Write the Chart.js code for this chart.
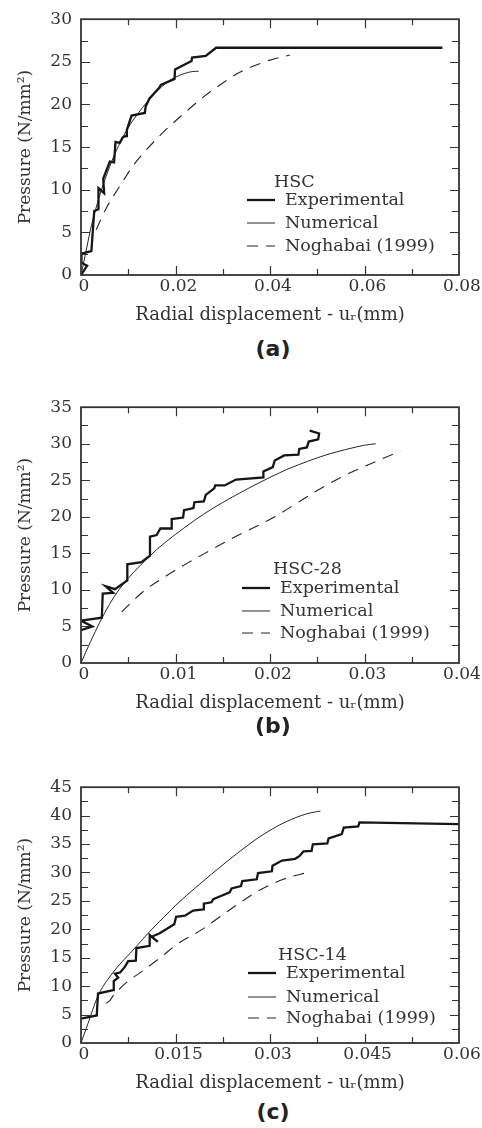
<!DOCTYPE html>
<html>
<head>
<meta charset="utf-8">
<script src="https://cdn.jsdelivr.net/npm/chart.js@4.4.1/dist/chart.umd.min.js"></script>
<style>
  body { margin: 0; background: #fff; width: 482px; height: 1128px; position: relative; overflow: hidden; }
  canvas { position: absolute; left: 0; }
  .cap { position: absolute; left: 223px; width: 100px; text-align: center;
         font: bold 22px "DejaVu Sans", sans-serif; line-height: 26px; color: #222; }
</style>
</head>
<body>
<canvas id="chart-a" width="482" height="330" style="top:0px"></canvas>
<div class="cap" style="top:336px">(a)</div>
<canvas id="chart-b" width="482" height="330" style="top:388px"></canvas>
<div class="cap" style="top:713px">(b)</div>
<canvas id="chart-c" width="482" height="330" style="top:768px"></canvas>
<div class="cap" style="top:1099px">(c)</div>

<script>
// ---- data: [radial displacement (mm), pressure (N/mm2)] ----

// (a) HSC
const hscExp = [[0,0],[0.0013,1.1],[0.0002,1.4],[0.0001,2.5],[0.0022,2.8],[0.0028,7.5],[0.0037,7.7],
  [0.0037,10.2],[0.0049,9.6],[0.0047,11.3],[0.0061,13.3],[0.007,13.2],[0.0073,15.6],[0.0082,15.5],
  [0.0089,16.2],[0.0096,16.3],[0.0097,17.0],[0.0107,18.7],[0.0135,19.0],[0.0137,19.8],[0.0145,20.7],
  [0.0166,22.0],[0.0169,22.3],[0.0198,23.0],[0.0199,24.1],[0.0234,25.1],[0.0235,25.5],[0.0264,25.7],
  [0.0286,26.65],[0.0765,26.65]];
const hscNum = [[0,0],[0.001,2.6],[0.002,5.3],[0.003,7.5],[0.004,9.4],[0.005,11.1],[0.006,12.6],
  [0.007,14.0],[0.008,15.2],[0.009,16.3],[0.010,17.3],[0.012,18.9],[0.014,20.3],[0.016,21.5],
  [0.018,22.5],[0.020,23.2],[0.022,23.65],[0.0235,23.85],[0.0249,23.9]];
const hscNog = [[0.0032,5.3],[0.0054,7.9],[0.0082,10.4],[0.011,12.8],[0.0142,14.9],[0.0177,16.9],
  [0.0219,19.0],[0.0262,21.0],[0.0297,22.4],[0.033,23.6],[0.0365,24.5],[0.04,25.2],[0.0442,25.8]];
const hscXTicks = [0, 0.02, 0.04, 0.06, 0.08];
const hscYTicks = [0, 5, 10, 15, 20, 25, 30];

// (b) HSC-28
const hsc28Exp = [[0,4.5],[0.0012,5.0],[0,5.8],[0.0022,6.2],[0.0023,9.5],[0.0034,9.6],[0.0026,10.5],
  [0.0036,10.1],[0.0049,11.3],[0.0049,13.5],[0.0064,13.8],[0.0073,14.7],[0.0073,17.3],[0.008,17.5],
  [0.0084,18.4],[0.0096,18.4],[0.0096,19.7],[0.0108,19.9],[0.0109,20.9],[0.0119,21.2],[0.012,22.0],
  [0.013,22.1],[0.0132,23.0],[0.0141,23.9],[0.0142,24.3],[0.0152,24.3],[0.0164,25.1],[0.0193,25.4],
  [0.0193,26.2],[0.0203,26.8],[0.0205,27.7],[0.0215,28.4],[0.023,28.5],[0.0231,29.3],[0.0239,29.5],
  [0.0241,30.3],[0.0251,30.6],[0.0252,31.4],[0.0242,31.8]];
const hsc28Num = [[0,0],[0.001,2.9],[0.002,5.6],[0.003,8.0],[0.004,10.0],[0.005,11.6],[0.006,13.0],
  [0.007,14.3],[0.008,15.5],[0.009,16.6],[0.010,17.6],[0.012,19.5],[0.014,21.2],[0.016,22.7],
  [0.018,24.1],[0.020,25.4],[0.022,26.6],[0.024,27.6],[0.026,28.5],[0.028,29.2],[0.030,29.8],[0.0312,30.0]];
const hsc28Nog = [[0.0043,7.0],[0.0067,9.9],[0.009,11.9],[0.0113,13.7],[0.0138,15.5],[0.0159,17.0],
  [0.0184,18.6],[0.0205,20.0],[0.0225,21.6],[0.025,23.6],[0.0275,25.4],[0.03,26.9],[0.0318,27.9],[0.0338,29.0]];
const hsc28XTicks = [0, 0.01, 0.02, 0.03, 0.04];
const hsc28YTicks = [0, 5, 10, 15, 20, 25, 30, 35];

// (c) HSC-14
const hsc14Exp = [[0,4.3],[0.0025,4.85],[0.0027,8.7],[0.0051,9.3],[0.0052,10.9],[0.0059,11.5],[0.0054,12.2],
  [0.0062,12.4],[0.0069,13.3],[0.0075,14.4],[0.0087,14.5],[0.0088,16.7],[0.0109,17.1],[0.0109,19.0],
  [0.0122,17.8],[0.0112,18.7],[0.0125,19.3],[0.0148,20.9],[0.0151,22.2],[0.0165,22.4],[0.0178,23.3],
  [0.0194,23.5],[0.0195,24.5],[0.0207,24.75],[0.021,25.3],[0.0223,25.9],[0.0236,26.5],[0.0239,27.2],
  [0.0254,27.6],[0.0256,28.5],[0.0279,28.8],[0.0281,29.9],[0.0303,30.2],[0.0304,31.2],[0.0319,32.1],
  [0.034,32.4],[0.0347,32.9],[0.0353,33.7],[0.0366,33.8],[0.0368,34.95],[0.0391,35.1],[0.0393,36.0],
  [0.0414,36.75],[0.0417,37.9],[0.044,38.1],[0.0442,38.8],[0.06,38.5]];
const hsc14Num = [[0,0],[0.0011,3.4],[0.0027,8.3],[0.0048,12.0],[0.0088,17.0],[0.0109,19.6],[0.0133,22.3],
  [0.0154,24.6],[0.018,27.15],[0.0207,29.7],[0.0233,32.05],[0.0265,34.8],[0.0284,36.3],[0.0316,38.4],
  [0.0348,39.95],[0.0365,40.5],[0.038,40.8]];
const hsc14Nog = [[0.004,7.0],[0.0046,7.5],[0.0051,8.3],[0.0061,9.5],[0.0075,10.9],[0.0093,12.3],
  [0.0128,15.2],[0.0154,17.5],[0.0191,19.9],[0.0223,22.4],[0.0254,24.8],[0.0284,26.9],[0.0321,28.8],[0.0363,30.1]];
const hsc14XTicks = [0, 0.015, 0.03, 0.045, 0.06];
const hsc14YTicks = [0, 5, 10, 15, 20, 25, 30, 35, 40, 45];

const seriesLabels = ['Experimental', 'Numerical', 'Noghabai (1999)'];

// ---- styling ----
const serif = "'DejaVu Serif', serif";
Chart.defaults.font.family = serif;
Chart.defaults.font.size = 17;
Chart.defaults.color = '#333';

const toPoints = arr => arr.map(p => ({ x: p[0], y: p[1] }));

// frame, inward ticks (major + minor) on all four sides, and the legend block
const framePlugin = {
  id: 'frame',
  afterDraw(chart, args, opts) {
    const { ctx, chartArea: a, scales } = chart;
    const x = scales.x, y = scales.y;
    ctx.save();
    ctx.strokeStyle = '#333';
    ctx.lineWidth = 1.2;
    ctx.beginPath();
    for (let i = 1; i * opts.xMinor < x.max - 1e-9; i++) {
      const px = Math.round(x.getPixelForValue(i * opts.xMinor)) + 0.5;
      const len = i % 2 === 0 ? 9 : 6;
      ctx.moveTo(px, a.bottom); ctx.lineTo(px, a.bottom - len);
      ctx.moveTo(px, a.top); ctx.lineTo(px, a.top + len);
    }
    for (let i = 1; i * opts.yMinor < y.max - 1e-9; i++) {
      const py = Math.round(y.getPixelForValue(i * opts.yMinor)) + 0.5;
      const len = i % 2 === 0 ? 9 : 7;
      ctx.moveTo(a.left, py); ctx.lineTo(a.left + len, py);
      ctx.moveTo(a.right, py); ctx.lineTo(a.right - len, py);
    }
    ctx.stroke();
    ctx.lineWidth = 1.8;
    ctx.strokeRect(a.left, a.top, a.right - a.left, a.bottom - a.top);

    // legend
    ctx.font = '17.5px ' + serif;
    ctx.fillStyle = '#333';
    ctx.textBaseline = 'middle';
    ctx.fillText(opts.title, opts.titleX, a.bottom - opts.rows[0]);
    chart.data.datasets.forEach((ds, i) => {
      const yy = a.bottom - opts.rows[i + 1];
      ctx.beginPath();
      ctx.strokeStyle = ds.borderColor;
      ctx.lineWidth = ds.borderWidth;
      ctx.setLineDash(ds.borderDash || []);
      ctx.moveTo(opts.lineX, yy); ctx.lineTo(opts.lineX + 28, yy);
      ctx.stroke();
      ctx.setLineDash([]);
      ctx.fillText(ds.label, opts.textX, yy);
    });
    ctx.restore();
  }
};

function makePanel(id, exp, num, nog, xTicks, yTicks, frame) {
  const xMax = xTicks[xTicks.length - 1];
  const yMax = yTicks[yTicks.length - 1];
  return new Chart(document.getElementById(id), {
    type: 'scatter',
    data: {
      datasets: [
        { label: seriesLabels[0], data: toPoints(exp), showLine: true, borderColor: '#161616',
          borderWidth: 2.3, pointRadius: 0, tension: 0 },
        { label: seriesLabels[1], data: toPoints(num), showLine: true, borderColor: '#262626',
          borderWidth: 1, pointRadius: 0, cubicInterpolationMode: 'monotone' },
        { label: seriesLabels[2], data: toPoints(nog), showLine: true, borderColor: '#262626',
          borderWidth: 1.1, borderDash: [11, 8], pointRadius: 0, cubicInterpolationMode: 'monotone' }
      ]
    },
    options: {
      responsive: false,
      animation: false,
      devicePixelRatio: 1,
      layout: { padding: { top: 15, right: 23, left: 0, bottom: 0 } },
      scales: {
        x: {
          type: 'linear', min: 0, max: xMax,
          afterBuildTicks: s => { s.ticks = xTicks.map(v => ({ value: v })); },
          afterFit: s => { s.height = 55; },
          ticks: { padding: 1, labelOffset: 3, maxRotation: 0, autoSkip: false,
                   callback: v => String(+v.toFixed(4)) },
          grid: { display: false, drawTicks: false },
          border: { display: false },
          title: { display: true, text: 'Radial displacement - uᵣ(mm)', font: { size: 18 },
                   padding: { top: 4, bottom: 4 } }
        },
        y: {
          type: 'linear', min: 0, max: yMax,
          afterBuildTicks: s => { s.ticks = yTicks.map(v => ({ value: v })); },
          afterFit: s => { s.width = 81; },
          ticks: { padding: 9, autoSkip: false },
          grid: { display: false, drawTicks: false },
          border: { display: false },
          title: { display: true, text: 'Pressure (N/mm²)', padding: { top: 15, bottom: 0 } }
        }
      },
      plugins: {
        legend: { display: false },
        tooltip: { enabled: false },
        frame: frame
      }
    },
    plugins: [framePlugin]
  });
}

const chartA = makePanel('chart-a', hscExp, hscNum, hscNog, hscXTicks, hscYTicks,
  { xMinor: 0.01, yMinor: 2.5, title: 'HSC', titleX: 274, lineX: 247, textX: 285, rows: [93, 75, 52, 29] });
const chartB = makePanel('chart-b', hsc28Exp, hsc28Num, hsc28Nog, hsc28XTicks, hsc28YTicks,
  { xMinor: 0.005, yMinor: 2.5, title: 'HSC-28', titleX: 273, lineX: 242, textX: 280, rows: [94, 75, 52, 30] });
const chartC = makePanel('chart-c', hsc14Exp, hsc14Num, hsc14Nog, hsc14XTicks, hsc14YTicks,
  { xMinor: 0.0075, yMinor: 2.5, title: 'HSC-14', titleX: 278, lineX: 248, textX: 286, rows: [88, 70, 46, 25] });
</script>
</body>
</html>
